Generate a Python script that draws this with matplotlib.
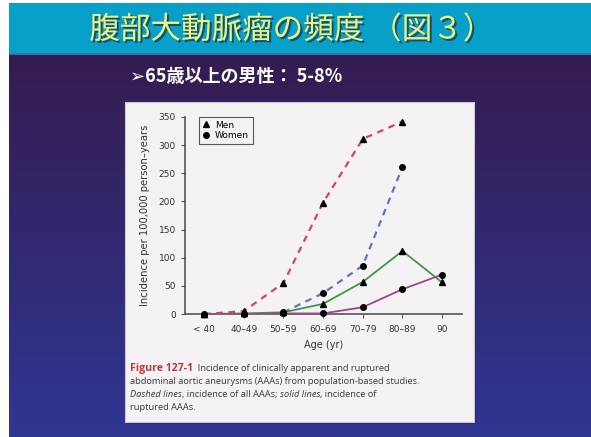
import numpy as np
import matplotlib
matplotlib.use("Agg")
import matplotlib.pyplot as plt
from matplotlib.patches import Rectangle
import matplotlib.patheffects as pe

# data
ages = ["< 40", "40\u201349", "50\u201359", "60\u201369", "70\u201379", "80\u201389", "90"]
men_all = [0, 5, 55, 198, 311, 342, np.nan]
women_all = [np.nan, np.nan, 3, 37, 86, 261, np.nan]
men_rupt = [0, 1, 3, 18, 57, 112, 56]
women_rupt = [0, 0, 1, 1, 12, 44, 70]

title = "腹部大動脈瘤の頻度 （図３）"
subtitle = "➢65歳以上の男性： 5-8%"
caption = [
    [("Figure 127-1", "bold", "normal", "#c8323c"),
     ("  Incidence of clinically apparent and ruptured", "normal", "normal", "#3a3a3a")],
    [("abdominal aortic aneurysms (AAAs) from population-based studies.", "normal", "normal", "#3a3a3a")],
    [("Dashed lines", "normal", "italic", "#3a3a3a"),
     (", incidence of all AAAs; ", "normal", "normal", "#3a3a3a"),
     ("solid lines", "normal", "italic", "#3a3a3a"),
     (", incidence of", "normal", "normal", "#3a3a3a")],
    [("ruptured AAAs.", "normal", "normal", "#3a3a3a")],
]

W, H = 591, 437
fig = plt.figure(figsize=(W / 100, H / 100), dpi=100)

# slide background in pixel coordinates
bg = fig.add_axes([0, 0, 1, 1])
bg.set_xlim(0, W)
bg.set_ylim(H, 0)
bg.axis("off")
top = np.array([0x35, 0x1c, 0x50]) / 255
bot = np.array([0x2f, 0x36, 0x92]) / 255
t = np.linspace(0, 1, 200)[:, None]
grad = (top * (1 - t) + bot * t)[:, None, :]
bg.imshow(grad, extent=[0, W, H, 55], aspect="auto", zorder=0)
bg.add_patch(Rectangle((0, 0), W, H, facecolor="white", zorder=-1))
bg.add_patch(Rectangle((9, 3), W - 9, 52, facecolor="#08a0c8", zorder=1))
bg.add_patch(Rectangle((9, 53), W - 9, 2, facecolor="#2c78a8", zorder=1))
bg.add_patch(Rectangle((0, 0), 9, H, facecolor="white", zorder=2))
# white panel holding the book figure
bg.add_patch(Rectangle((127, 104), 349, 320, facecolor="#1c1c50", alpha=0.5, zorder=2))
bg.add_patch(Rectangle((125, 102), 349, 320, facecolor="#f4f2f2", edgecolor="#c8c8d8",
                       linewidth=0.8, zorder=3))

bg.text(291, 30, title, fontsize=22, color="#f0f27a", ha="center", va="center",
        family=["Noto Sans CJK JP", "DejaVu Sans"], zorder=5,
        path_effects=[pe.withSimplePatchShadow(offset=(1.5, -1.5), shadow_rgbFace="#104060", alpha=0.8)])
bg.text(130, 77, subtitle, fontsize=13, fontweight="bold", color="white", ha="left", va="center",
        family=["Noto Sans CJK JP", "DejaVu Sans"], zorder=5)

# chart
ax = fig.add_axes([185 / W, 1 - 314 / H, 277 / W, 197 / H])
ax.set_zorder(4)
ax.patch.set_alpha(0)
x = np.arange(len(ages))
ax.plot(x, men_all, ls=(0, (3, 2.5)), color="#d8406e", lw=1.6, zorder=3)
ax.plot(x, women_all, ls=(0, (3, 2.5)), color="#5878c8", lw=1.6, zorder=3)
ax.plot(x, men_rupt, ls="-", color="#3c9a44", lw=1.3, zorder=3)
ax.plot(x, women_rupt, ls="-", color="#a0448c", lw=1.3, zorder=3)
ax.plot(x, men_all, "^", color="black", ms=4.5, clip_on=False, zorder=5)
ax.plot(x, men_rupt, "^", color="black", ms=4.5, clip_on=False, zorder=5)
ax.plot(x, women_all, "o", color="black", ms=4, clip_on=False, zorder=5)
ax.plot(x, women_rupt, "o", color="black", ms=4, clip_on=False, zorder=5)
ax.plot([], [], "^", color="black", ms=4.5, label="Men")
ax.plot([], [], "o", color="black", ms=4, label="Women")

ax.set_xlim(-0.48, 6.5)
ax.set_ylim(0, 350)
ax.set_yticks(range(0, 351, 50))
ax.set_xticks(x)
ax.set_xticklabels(ages)
for s in ["top", "right"]:
    ax.spines[s].set_visible(False)
for s in ["left", "bottom"]:
    ax.spines[s].set_color("#555555")
    ax.spines[s].set_linewidth(1.2)
ax.tick_params(axis="both", labelsize=6.5, colors="#555555", labelcolor="#333333",
               length=3, width=0.8)
ax.tick_params(axis="x", pad=5)
ax.set_ylabel("Incidence per 100,000 person\u2013years", fontsize=7.2, color="#333333", labelpad=6)
ax.set_xlabel("Age (yr)", fontsize=7, color="#333333", labelpad=4)
leg = ax.legend(loc="upper left", bbox_to_anchor=(0.05, 1.0), fontsize=6.5, frameon=True,
                fancybox=False, handlelength=0.8, handletextpad=0.6, borderpad=0.4,
                labelspacing=0.2, borderaxespad=0)
leg.get_frame().set_edgecolor("#333333")
leg.get_frame().set_linewidth(0.8)
leg.get_frame().set_facecolor("#f4f2f2")

# caption with mixed styles
fig.canvas.draw()
r = fig.canvas.get_renderer()
ys = [371, 384, 397, 410]
for line, yy in zip(caption, ys):
    xx = 130
    for txt, wt, st, col in line:
        tt = bg.text(xx, yy, txt, fontsize=7.6 if wt == "bold" else 6.7, fontweight=wt,
                     fontstyle=st, color=col, ha="left", va="baseline",
                     family="Open Sans", zorder=5)
        bb = tt.get_window_extent(renderer=r)
        xx += bb.width

fig.savefig("out.png", dpi=100)
